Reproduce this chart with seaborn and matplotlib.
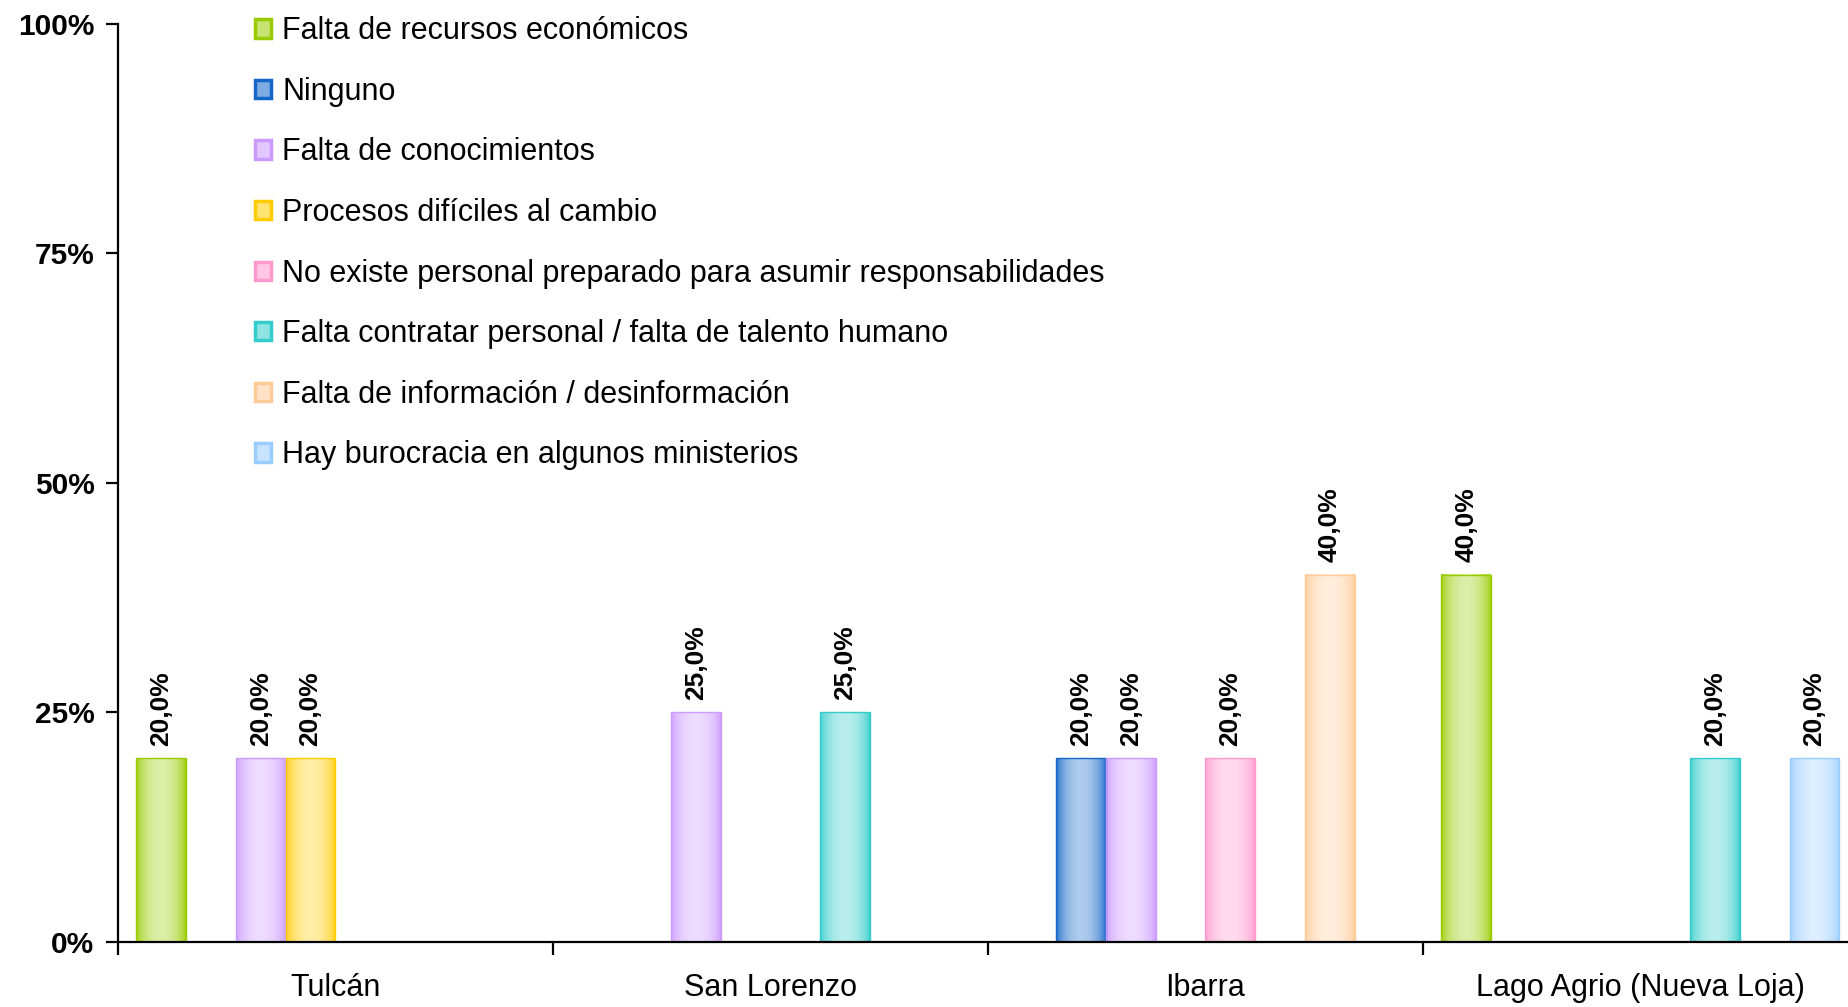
import numpy as np
import pandas as pd
import seaborn as sns
import matplotlib.pyplot as plt
from matplotlib.colors import to_rgb
from matplotlib.patches import Patch

# --- datos ---
ciudades = ["Tulcán", "San Lorenzo", "Ibarra", "Lago Agrio (Nueva Loja)"]
causas = [
    "Falta de recursos económicos",
    "Ninguno",
    "Falta de conocimientos",
    "Procesos difíciles al cambio",
    "No existe personal preparado para asumir responsabilidades",
    "Falta contratar personal / falta de talento humano",
    "Falta de información / desinformación",
    "Hay burocracia en algunos ministerios",
]
# porcentaje por ciudad (Tulcán, San Lorenzo, Ibarra, Lago Agrio)
recursos = [20, 0, 0, 40]
ninguno = [0, 0, 20, 0]
conocimientos = [20, 25, 20, 0]
procesos = [20, 0, 0, 0]
personal = [0, 0, 20, 0]
contratar = [0, 25, 0, 20]
informacion = [0, 0, 40, 0]
burocracia = [0, 0, 0, 20]
colores = ["#99CC00", "#1466C8", "#CC99FF", "#FFCC00",
           "#FF99CC", "#33CCCC", "#FFCC99", "#99CCFF"]

series = [recursos, ninguno, conocimientos, procesos,
          personal, contratar, informacion, burocracia]
filas = []
for causa, valores in zip(causas, series):
    for ciudad, v in zip(ciudades, valores):
        filas.append({"ciudad": ciudad, "causa": causa, "valor": v})
df = pd.DataFrame(filas)

sns.set_style("ticks")
plt.rcParams['font.family'] = ['Liberation Sans', 'DejaVu Sans']
plt.rcParams['text.color'] = 'black'
plt.rcParams['xtick.color'] = 'black'
plt.rcParams['ytick.color'] = 'black'
plt.rcParams['axes.labelcolor'] = 'black'


def aclarar(c, f):
    c = np.array(to_rgb(c))
    return tuple(c + (1 - c) * f)


fig = plt.figure(figsize=(18.49, 10.07), dpi=100)
ax = fig.add_axes([0.0638, 0.0645, 0.941, 0.912])

sns.barplot(data=df, x="ciudad", y="valor", hue="causa", order=ciudades,
            hue_order=causas, palette=colores, width=0.915, saturation=1,
            legend=False, ax=ax)

# relleno degradado como en el original
t = np.linspace(0, 1, 200)
perfil = 0.66 * np.sin(np.pi * t) ** 0.6
for cont, col in zip(ax.containers, colores):
    base = np.array(to_rgb(col))
    grad = base[None, :] + (1 - base[None, :]) * perfil[:, None]
    grad = grad[None, :, :]
    for bar in cont:
        h = bar.get_height()
        bar.set_facecolor("none")
        bar.set_edgecolor(col)
        bar.set_linewidth(1.0)
        if h > 0:
            x0 = bar.get_x()
            w = bar.get_width()
            ax.imshow(grad, extent=[x0, x0 + w, 0, h], aspect="auto",
                      zorder=bar.get_zorder() - 0.1, interpolation="bilinear")
    etiquetas = [f"{b.get_height():.1f}%".replace(".", ",") if b.get_height() > 0 else ""
                 for b in cont]
    ax.bar_label(cont, labels=etiquetas, rotation=90, padding=9,
                 fontsize=19, fontweight="bold")

ax.set_xlim(-0.5, 3.5)
ax.set_ylim(0, 100)

ax.set_yticks([0, 25, 50, 75, 100])
ax.set_yticklabels(["0%", "25%", "50%", "75%", "100%"], fontsize=21.5, fontweight="bold")
ax.tick_params(axis="y", length=9, width=1.6, pad=8)

ax.set_xticks(range(len(ciudades)))
ax.set_xticklabels(ciudades, fontsize=22)
ax.set_xticks([-0.5, 0.5, 1.5, 2.5], minor=True)
ax.tick_params(axis="x", which="major", length=0, pad=22)
ax.tick_params(axis="x", which="minor", length=9, width=1.6)

ax.set_xlabel("")
ax.set_ylabel("")
sns.despine(ax=ax)
for s in ["left", "bottom"]:
    ax.spines[s].set_linewidth(1.6)
    ax.spines[s].set_color("black")

handles = [Patch(facecolor=aclarar(c, 0.45), edgecolor=c, linewidth=2.5) for c in colores]
ax.legend(handles, causas, loc="upper left", bbox_to_anchor=(0.0785, 1.008),
          frameon=False, fontsize=22, handlelength=0.55, handleheight=0.55,
          handletextpad=0.35, labelspacing=1.0, borderpad=0, borderaxespad=0)

fig.savefig("out.png", dpi=100)
